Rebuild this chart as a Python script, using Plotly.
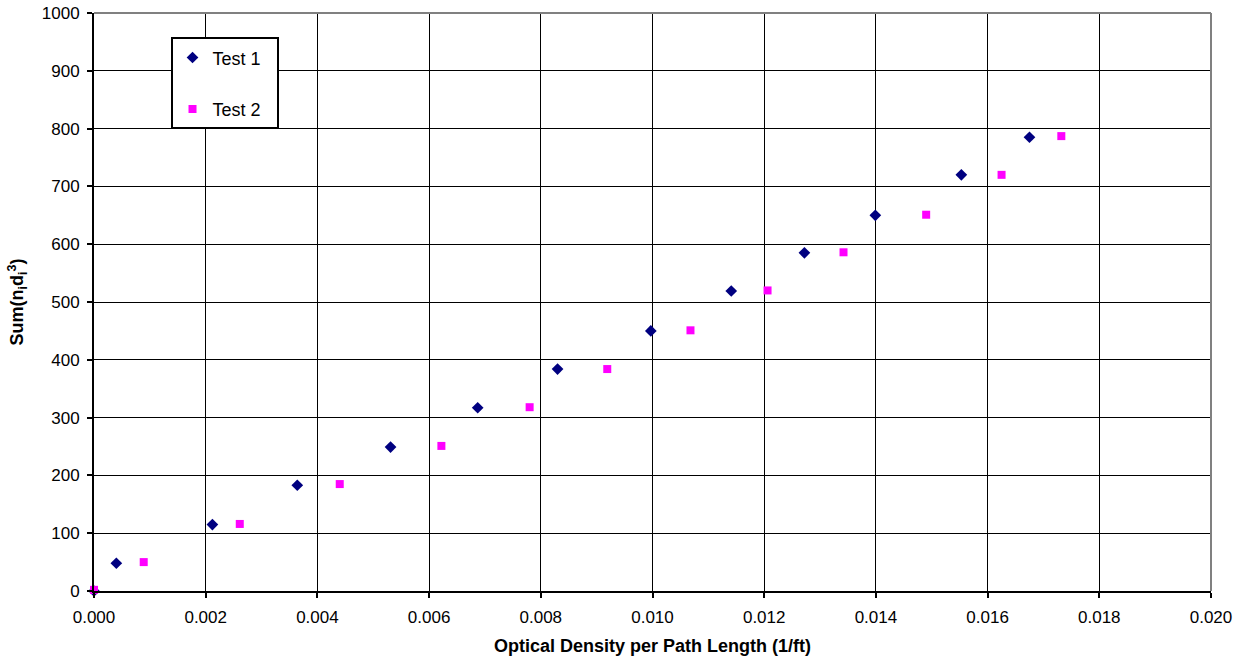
import plotly.graph_objects as go

# Test 1
t1_x = [0.0, 0.00040, 0.00212, 0.00364, 0.00531, 0.00687, 0.00830, 0.00997,
        0.01141, 0.01272, 0.01399, 0.01553, 0.01675]
t1_y = [0, 48, 115, 183, 249, 317, 384, 450, 519, 585, 650, 720, 785]
# Test 2
t2_x = [0.0, 0.00089, 0.00261, 0.00440, 0.00622, 0.00780, 0.00919, 0.01068,
        0.01206, 0.01342, 0.01490, 0.01625, 0.01732]
t2_y = [2, 50, 116, 185, 251, 318, 384, 451, 520, 586, 651, 720, 787]

x_ticks = [0.000, 0.002, 0.004, 0.006, 0.008, 0.010, 0.012, 0.014, 0.016, 0.018, 0.020]
y_ticks = [0, 100, 200, 300, 400, 500, 600, 700, 800, 900, 1000]

x_title = "<b>Optical Density per Path Length (1/ft)</b>"
y_title = "<b>Sum(n<sub>i</sub>d<sub>i</sub><sup>3</sup>)</b>"

FONT = "Liberation Sans, Arial, sans-serif"

fig = go.Figure()
fig.add_trace(go.Scatter(
    x=t1_x, y=t1_y, mode="markers", name="Test 1\u00a0\u00a0", legendgroup="a",
    marker=dict(symbol="diamond", size=9, color="#000080"),
    cliponaxis=False))
fig.add_trace(go.Scatter(
    x=t2_x, y=t2_y, mode="markers", name="Test 2\u00a0\u00a0", legendgroup="b",
    marker=dict(symbol="square", size=8, color="#FF00FF",
                line=dict(color="#FF00FF", width=0)),
    cliponaxis=False))

fig.update_xaxes(
    range=[0, 0.020], tickvals=x_ticks, ticktext=[f"{v:.3f}" for v in x_ticks],
    showgrid=True, gridcolor="black", gridwidth=1,
    showline=True, linecolor="black", linewidth=2,
    ticks="outside", ticklen=5, tickwidth=2, tickcolor="black",
    ticklabelstandoff=5, ticklabeloverflow="allow",
    tickfont=dict(family=FONT, size=17, color="black"),
    zeroline=False, automargin=False)
fig.update_yaxes(
    range=[0, 1000], tickvals=y_ticks,
    showgrid=True, gridcolor="black", gridwidth=1,
    showline=True, linecolor="black", linewidth=2,
    ticks="outside", ticklen=5, tickwidth=2, tickcolor="black",
    ticklabelstandoff=4, ticklabeloverflow="allow",
    tickfont=dict(family=FONT, size=17, color="black"),
    zeroline=False, automargin=False,
    title=dict(text=y_title, font=dict(family=FONT, size=18, color="black"),
               standoff=13))

# x axis title placed as annotation below tick labels
fig.add_annotation(text=x_title, xref="paper", yref="paper", x=0.5, y=0,
                   xanchor="center", yanchor="top", yshift=-43, showarrow=False,
                   font=dict(family=FONT, size=18, color="black"))

# gray top and right border
fig.add_shape(type="line", xref="paper", yref="paper", x0=0, x1=1, y0=1, y1=1,
              line=dict(color="#808080", width=2), layer="above")
fig.add_shape(type="line", xref="paper", yref="paper", x0=1, x1=1, y0=0, y1=1,
              line=dict(color="#808080", width=2), layer="above")

fig.update_layout(
    width=1243, height=660,
    margin=dict(l=94, r=32, t=13, b=69, autoexpand=False),
    paper_bgcolor="white", plot_bgcolor="white",
    showlegend=True,
    legend=dict(x=0.0685, y=0.958, xanchor="left", yanchor="top",
                bgcolor="white", bordercolor="black", borderwidth=2,
                font=dict(family=FONT, size=18, color="black"),
                tracegroupgap=25, itemwidth=30),
)

fig.write_html("out.html", config={"displayModeBar": False},
               post_script="document.body.style.margin='0';document.body.style.overflow='hidden';")
